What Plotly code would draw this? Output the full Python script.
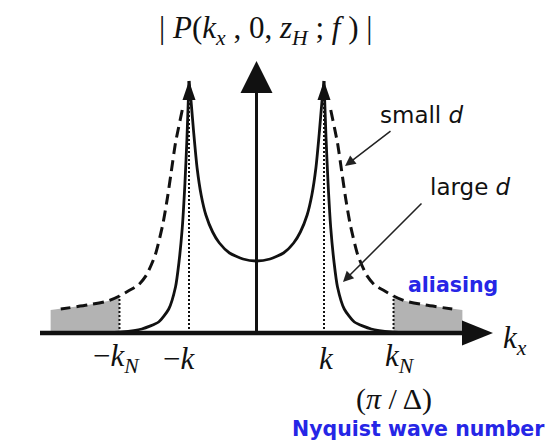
import plotly.graph_objects as go

# Wavenumber axis in units of k (k = 1); Nyquist wavenumber kN = pi / Delta
K = 1.0
K_NYQ = 2.03

# |P| for large d (solid): inside |kx| < k, and the decaying tail outside
inner_u = [0.0, 0.2, 0.4, 0.55, 0.65, 0.75, 0.82, 0.88, 0.93, 0.97, 1.0]
inner_p = [72, 74, 80, 90, 101, 118, 138, 165, 200, 232, 252]
tail_u = [1.0, 1.03, 1.06, 1.1, 1.15, 1.2, 1.3, 1.45, 1.7, 2.0, 2.3]
tail_p = [252, 195, 150, 105, 70, 46, 24, 11, 4, 1, 0]

# |P| for small d (dashed), outside the peaks
small_u = [1.1, 1.2, 1.27, 1.32, 1.39, 1.5, 1.63, 1.75, 1.9, 2.03, 2.2, 2.5, 2.9]
small_p = [223, 190, 158, 135, 108, 78, 58, 48, 42, 37, 32, 28, 24]

# aliased part beyond the Nyquist wavenumber (grey)
alias_u = [2.03, 2.2, 2.5, 2.9, 3.05]
alias_p = [37, 32, 28, 24, 23]

PEAK = 252
Y_TOP = 272          # tip of the vertical axis arrow

# drawing scale
PX_PER_U = 67.5
X0_PX = 256.5
AXIS_PX = 333
W, H = 545, 443

def px(xp):
    return (xp - X0_PX) / PX_PER_U

def py(yp):
    return AXIS_PX - yp

BLACK = "#111111"
BLUE = "#2626e6"
GREY = "#b3b3b3"
MATH = "Liberation Serif"
SANS = "DejaVu Sans"

fig = go.Figure()

# grey aliasing regions
for sgn in (-1, 1):
    xs = [sgn * v for v in alias_u]
    fig.add_trace(go.Scatter(x=xs, y=alias_p, mode="lines", line=dict(width=0),
                             fill="tozeroy", fillcolor=GREY, hoverinfo="skip"))

# dotted guides at +-k and +-kN
for xv, top in ((K, PEAK), (-K, PEAK), (K_NYQ, alias_p[0]), (-K_NYQ, alias_p[0])):
    fig.add_trace(go.Scatter(x=[xv, xv], y=[0, top], mode="lines",
                             line=dict(color=BLACK, width=2, dash="2px,2px"),
                             hoverinfo="skip"))

# small d (dashed)
for sgn in (-1, 1):
    fig.add_trace(go.Scatter(x=[sgn * v for v in small_u], y=small_p, mode="lines",
                             line=dict(color=BLACK, width=3, dash="11px,6px",
                                       shape="spline", smoothing=0.6),
                             hoverinfo="skip"))

# large d (solid)
full_inner_u = [-v for v in inner_u[::-1]] + inner_u[1:]
full_inner_p = inner_p[::-1] + inner_p[1:]
fig.add_trace(go.Scatter(x=full_inner_u, y=full_inner_p, mode="lines",
                         line=dict(color=BLACK, width=2.8, shape="spline", smoothing=0.6),
                         hoverinfo="skip"))
for sgn in (-1, 1):
    fig.add_trace(go.Scatter(x=[sgn * v for v in tail_u], y=tail_p, mode="lines",
                             line=dict(color=BLACK, width=2.8, shape="spline", smoothing=0.6),
                             hoverinfo="skip"))

shapes = []
# horizontal axis with arrow
shapes.append(dict(type="line", x0=px(40), x1=px(466), y0=0, y1=0,
                   line=dict(color=BLACK, width=4.5)))
shapes.append(dict(type="path",
                   path=f"M {px(462)},{12.5} L {px(493)},0 L {px(462)},{-12.5} Z",
                   fillcolor=BLACK, line=dict(width=0)))
# vertical axis with arrow
shapes.append(dict(type="line", x0=0, x1=0, y0=0, y1=Y_TOP - 30,
                   line=dict(color=BLACK, width=3)))
hw = 16 / PX_PER_U
shapes.append(dict(type="path",
                   path=f"M {-hw},{Y_TOP - 32} L 0,{Y_TOP} L {hw},{Y_TOP - 32} Z",
                   fillcolor=BLACK, line=dict(width=0)))
# arrowheads on the two peaks
ph = 6.5 / PX_PER_U
for xv in (-K, K):
    shapes.append(dict(type="path",
                       path=f"M {xv - ph},{PEAK - 19} L {xv},{PEAK} L {xv + ph},{PEAK - 19} Z",
                       fillcolor=BLACK, line=dict(width=0)))

ann = []
def math_label(x, y, text, size=30, **kw):
    ann.append(dict(x=x, y=y, text=text, showarrow=False, xref="x", yref="y",
                    font=dict(family=MATH, size=size, color=BLACK), **kw))

math_label(px(265), py(30),
           "| <i>P</i>(<i>k</i><sub><i>x</i></sub> , 0, <i>z</i><sub><i>H</i></sub> ; <i>f</i> ) |",
           size=31)
math_label(-K_NYQ, py(358), "−<i>k</i><sub><i>N</i></sub>", size=31, xshift=-3)
math_label(-K, py(358), "−<i>k</i>", size=31, xshift=-10)
math_label(K, py(358), "<i>k</i>", size=31, xshift=2)
math_label(K_NYQ, py(358), "<i>k</i><sub><i>N</i></sub>", size=31, xshift=6)
math_label(K_NYQ, py(399), "(<i>π</i> / Δ)", size=30)
math_label(px(515), py(340), "<i>k</i><sub><i>x</i></sub>", size=31)

def sans_label(x, y, text, size, color, bold=False):
    ann.append(dict(x=x, y=y, text=f"<b>{text}</b>" if bold else text, showarrow=False,
                    xref="x", yref="y", font=dict(family=SANS, size=size, color=color)))

sans_label(px(422), py(115), "small <i>d</i>", 23, BLACK)
sans_label(px(470), py(187), "large <i>d</i>", 23, BLACK)
sans_label(px(453), py(285), "aliasing", 20.5, BLUE, bold=True)
sans_label(px(418), py(429), "Nyquist wave number", 20.5, BLUE, bold=True)

# pointer arrows from the labels to the curves
for (tx, ty), (sx, sy) in (((345, 166), (392, 130)), ((343, 282), (423, 202))):
    ann.append(dict(x=px(tx), y=py(ty), ax=px(sx), ay=py(sy), xref="x", yref="y",
                    axref="x", ayref="y", text="", showarrow=True, arrowhead=2,
                    arrowsize=1.4, arrowwidth=1.5, arrowcolor="#222222"))

fig.update_layout(
    width=W, height=H, margin=dict(l=0, r=0, t=0, b=0),
    paper_bgcolor="white", plot_bgcolor="white", showlegend=False,
    xaxis=dict(range=[px(0), px(W)], visible=False, fixedrange=True),
    yaxis=dict(range=[py(H), py(0)], visible=False, fixedrange=True),
    shapes=shapes, annotations=ann,
)

fig.write_html("out.html")
